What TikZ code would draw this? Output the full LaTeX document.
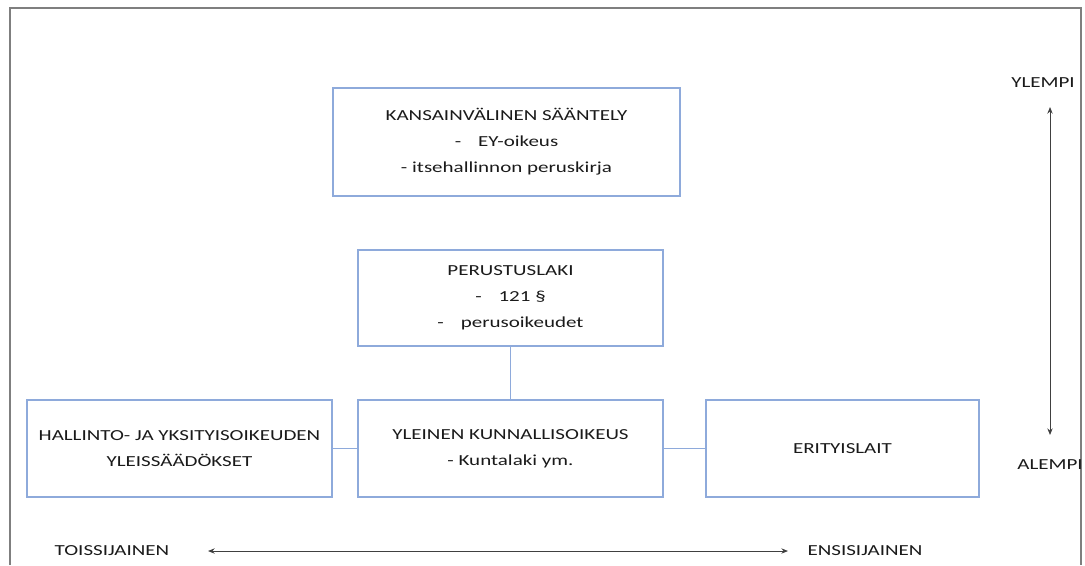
\documentclass[tikz,border=0pt]{standalone}
\usepackage{fontspec}
\setmainfont{Carlito}[FakeStretch=1.37]
\usetikzlibrary{arrows.meta}
\definecolor{boxblue}{HTML}{8EAADB}
\definecolor{framegray}{HTML}{7F7F7F}
\definecolor{arrowgray}{HTML}{404040}
\definecolor{textgray}{HTML}{1A1A1A}
\begin{document}
\begin{tikzpicture}[x=0.75pt,y=-0.75pt,
  lawbox/.style={draw=boxblue,line width=0.8pt,align=center,inner sep=0pt,
    text=textgray,font=\fontsize{11.5}{19.5}\selectfont},
  link/.style={draw=boxblue,line width=0.8pt},
  label/.style={text=textgray,font=\fontsize{11.5}{19.5}\selectfont,inner sep=0pt},
  scale arrow/.style={draw=arrowgray,line width=0.7pt,{Stealth[length=5pt,width=4pt]}-{Stealth[length=5pt,width=4pt]}}]
\useasboundingbox (0,0) rectangle (1085,565);
% outer frame, open at the bottom
\draw[framegray,line width=0.9pt] (10,565) -- (10,8) -- (1081,8) -- (1081,565);

% boxes of the hierarchy
\node[lawbox,minimum width=347*0.75pt,minimum height=108*0.75pt] (intl) at (506.5,142)
  {KANSAINVÄLINEN SÄÄNTELY\\-\hspace{1.1em}EY-oikeus\\- itsehallinnon peruskirja};
\node[lawbox,minimum width=305*0.75pt,minimum height=96*0.75pt] (const) at (510.5,298)
  {PERUSTUSLAKI\\-\hspace{1.1em}121 §\\-\hspace{1.1em}perusoikeudet};
\node[lawbox,minimum width=305*0.75pt,minimum height=97*0.75pt] (admin) at (179.5,448.5)
  {HALLINTO- JA YKSITYISOIKEUDEN\\YLEISSÄÄDÖKSET};
\node[lawbox,minimum width=305*0.75pt,minimum height=97*0.75pt] (muni) at (510.5,448.5)
  {YLEINEN KUNNALLISOIKEUS\\- Kuntalaki ym.};
\node[lawbox,minimum width=273*0.75pt,minimum height=97*0.75pt] (special) at (842.5,448.5)
  {ERITYISLAIT};

\draw[link] (const.south) -- (muni.north);
\draw[link] (admin.east) -- (muni.west);
\draw[link] (muni.east) -- (special.west);

% vertical scale: higher / lower
\node[label] (upper) at (1043,83) {YLEMPI};
\node[label] (lower) at (1050,465) {ALEMPI};
\coordinate (upTip) at (1050,107);
\coordinate (lowTip) at (1050,435);
\draw[scale arrow] (upTip) -- (lowTip);

% horizontal scale: secondary / primary
\node[label] (second) at (112,551) {TOISSIJAINEN};
\node[label] (first) at (865,551) {ENSISIJAINEN};
\coordinate (leftTip) at (208,551);
\coordinate (rightTip) at (788,551);
\draw[scale arrow] (leftTip) -- (rightTip);
\end{tikzpicture}
\end{document}
